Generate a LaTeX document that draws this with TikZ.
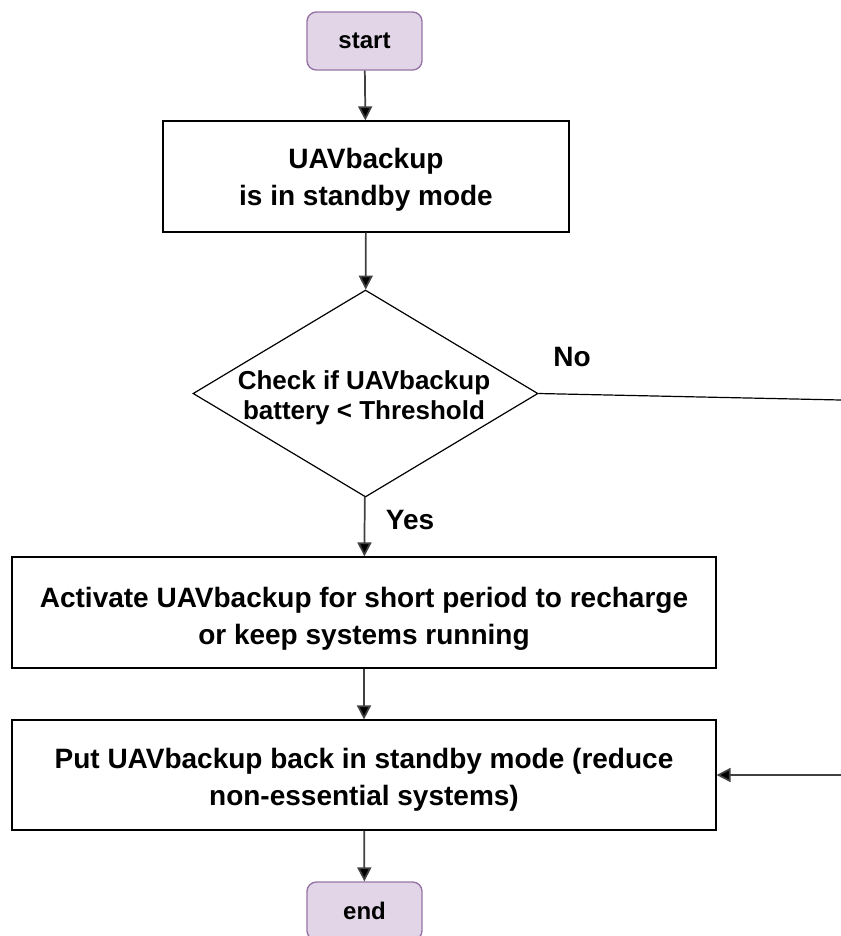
\documentclass[tikz,border=0pt]{standalone}
\usepackage{fontspec}
\setmainfont{Liberation Sans}
\usetikzlibrary{shapes.geometric,arrows.meta}
\begin{document}
\begin{tikzpicture}[x=0.75pt,y=-0.75pt,
  every node/.style={font=\bfseries\fontsize{21}{27.5}\selectfont, align=center, inner sep=0pt},
  term/.style={draw=termborder, fill=termfill, rounded corners=7pt, line width=1pt,
    minimum width=86.25pt, minimum height=43.5pt, font=\bfseries\fontsize{18}{22}\selectfont},
  proc/.style={draw=black, line width=0.9pt},
  decide/.style={diamond, draw=black, line width=0.9pt, aspect=1.67,
    minimum width=258.75pt, minimum height=155.25pt},
  decidetext/.style={font=\bfseries\fontsize{19.5}{22.5}\selectfont},
  flow/.style={draw=black!75, line width=1.3pt, -{Triangle[length=10.5pt,width=10.5pt,fill=black]}},
  plain/.style={draw=black, line width=0.9pt}]
\definecolor{termfill}{HTML}{E1D5E7}
\definecolor{termborder}{HTML}{9673A6}
\useasboundingbox (0,0) rectangle (841,936);

% shapes
\node[term] (start) at (364.5,41) {start};
\node[proc, minimum width=304.5pt, minimum height=83.25pt] (standby) at (366,176.5) {};
\node[decide] (check) at (365.5,393.5) {};
\node[proc, minimum width=528pt, minimum height=83.25pt] (activate) at (364,612.5) {};
\node[proc, minimum width=528pt, minimum height=82.5pt] (backstandby) at (364,775) {};
\node[term] (end) at (364.5,911) {end};

% texts inside the shapes
\node (standbytext) at (366,180) {UAVbackup\\is in standby mode};
\node[decidetext] (checktext) at (364,397.5) {Check if UAVbackup\\battery < Threshold};
\node (activatetext) at (364,619) {Activate UAVbackup for short period to recharge\\or keep systems running};
\node (backtext) at (364,779.5) {Put UAVbackup back in standby mode (reduce\\non-essential systems)};

\coordinate (noend) at (841,400);
\coordinate (noback) at (841,775);

% connectors
\draw[flow] (start) -- (standby);
\draw[flow] (standby) -- (check);
\draw[flow] (check) -- (activate);
\node (yes) at (410,520) {Yes};
\draw[flow] (activate) -- (backstandby);
\draw[flow] (backstandby) -- (end);
\draw[plain] (check.east) -- (noend);
\node (no) at (572,357) {No};
\draw[flow] (noback) -- (backstandby);
\end{tikzpicture}
\end{document}
